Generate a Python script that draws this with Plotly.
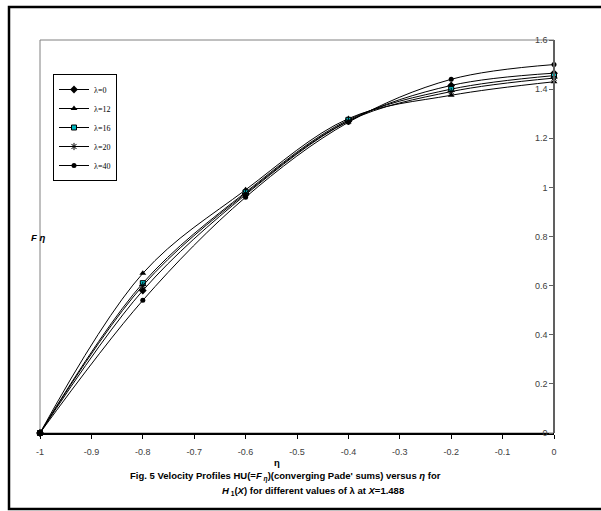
import plotly.graph_objects as go

# ---- data ----
eta = [-1, -0.8, -0.6, -0.4, -0.2, 0]
lam_labels = ["λ=0", "λ=12", "λ=16", "λ=20", "λ=40"]
f_lam0 = [0, 0.58, 0.97, 1.27, 1.415, 1.465]
f_lam12 = [0, 0.65, 0.99, 1.28, 1.375, 1.43]
f_lam16 = [0, 0.61, 0.98, 1.275, 1.40, 1.455]
f_lam20 = [0, 0.60, 0.975, 1.27, 1.39, 1.445]
f_lam40 = [0, 0.54, 0.96, 1.265, 1.44, 1.50]
x_tick_vals = [-1, -0.9, -0.8, -0.7, -0.6, -0.5, -0.4, -0.3, -0.2, -0.1, 0]
x_tick_text = ["-1", "-0.9", "-0.8", "-0.7", "-0.6", "-0.5", "-0.4", "-0.3", "-0.2", "-0.1", "0"]
y_tick_vals = [0, 0.2, 0.4, 0.6, 0.8, 1, 1.2, 1.4, 1.6]
y_tick_text = ["0", "0.2", "0.4", "0.6", "0.8", "1", "1.2", "1.4", "1.6"]

series = [f_lam0, f_lam12, f_lam16, f_lam20, f_lam40]
markers = [
    dict(symbol="diamond", size=6, color="black"),
    dict(symbol="triangle-up", size=6, color="black"),
    dict(symbol="square", size=5, color="#00B8C0", line=dict(color="black", width=1)),
    dict(symbol="asterisk-open", size=6, color="black", line=dict(color="black", width=1)),
    dict(symbol="circle", size=5, color="black"),
]

fig = go.Figure()
for name, ys, mk in zip(lam_labels, series, markers):
    fig.add_trace(go.Scatter(
        x=eta, y=ys, name=name, mode="lines+markers",
        line=dict(color="black", width=1, shape="spline", smoothing=1),
        marker=mk, cliponaxis=False,
    ))

L, R, T, B = 40, 47, 40, 78
W, H = 601, 511
pw, ph = W - L - R, H - T - B

def px(xp):
    return (xp - L) / pw

def py(yp):
    return (H - B - yp) / ph

tick_font = dict(family="Liberation Sans, Arial, sans-serif", size=9, color="#404040")

fig.update_layout(
    width=W, height=H,
    margin=dict(l=L, r=R, t=T, b=B),
    paper_bgcolor="white", plot_bgcolor="white",
    showlegend=True,
    legend=dict(
        x=px(53), y=py(74), xanchor="left", yanchor="top",
        bgcolor="white", bordercolor="black", borderwidth=1,
        font=dict(family="Liberation Serif, Times New Roman, serif", size=8, color="black"),
        itemwidth=30, tracegroupgap=0,
    ),
    xaxis=dict(
        range=[-1, 0], tickvals=x_tick_vals, ticktext=x_tick_text,
        showgrid=False, zeroline=False,
        showline=True, linecolor="black", linewidth=1.5,
        ticks="outside", ticklen=4, tickcolor="black",
        ticklabelstandoff=5,
        tickfont=tick_font,
    ),
    yaxis=dict(
        range=[0, 1.6], tickvals=y_tick_vals, ticktext=y_tick_text,
        anchor="free", position=1, side="left",
        showgrid=False, zeroline=False,
        showline=True, linecolor="#606060", linewidth=1.5,
        ticks="outside", ticklen=4, tickcolor="#606060",
        tickfont=tick_font,
    ),
)

# plot-area border (gray) and outer frame (black)
fig.add_shape(type="rect", xref="x domain", yref="y domain", x0=0, y0=0, x1=1, y1=1,
              line=dict(color="#808080", width=1), layer="below")
fig.add_shape(type="rect", xref="paper", yref="paper",
              x0=px(9), y0=py(509), x1=px(603), y1=py(7),
              line=dict(color="black", width=2.5), layer="below")

cap_font = dict(family="Liberation Sans, Arial, sans-serif", size=9.5, color="black")
fig.add_annotation(xref="paper", yref="paper", x=px(29), y=py(237), showarrow=False,
                   text="<b><i>F</i></b> <b><i>η</i></b>", font=cap_font)
fig.add_annotation(xref="paper", yref="paper", x=px(285), y=py(485), showarrow=False,
                   text="<b>Fig. 5 Velocity Profiles HU(=<i>F</i><sub> <i>η</i></sub>)(converging Pade' sums) versus <i>η</i> for</b>",
                   font=cap_font)
fig.add_annotation(xref="paper", yref="paper", x=px(277), y=py(470), showarrow=False,
                   text="<b>η</b>", font=cap_font)
fig.add_annotation(xref="paper", yref="paper", x=px(313), y=py(499), showarrow=False,
                   text="<b><i>H</i><sub> 1</sub>(<i>X</i>) for different values of λ at <i>X</i>=1.488</b>",
                   font=cap_font)

fig.write_html("out.html")
